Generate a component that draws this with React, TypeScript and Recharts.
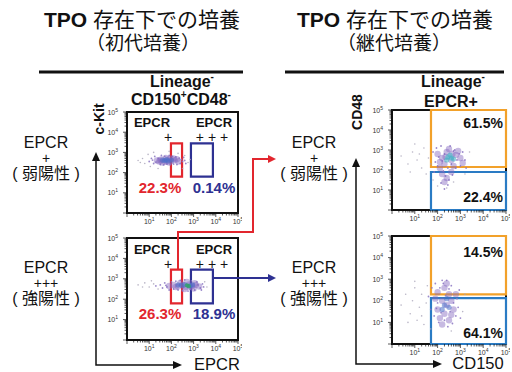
import React from 'react'
import { ScatterChart, Scatter, XAxis, YAxis, ReferenceArea } from 'recharts'

// axes are in decades (log10 of fluorescence)
const DECADES = [0, 1, 2, 3, 4]
const MINOR_STEPS = [2, 3, 4, 5, 6, 7, 8, 9]
const MAJOR_TICKS = [0, 1, 2, 3, 4, 5]
const LABELLED = [1, 2, 3, 4, 5]

// plot 1: EPCR x c-Kit, primary culture, top
const P1_CORE = [[1.35, 2.6], [1.55, 2.65], [1.7, 2.55], [1.85, 2.65], [2.0, 2.58], [2.15, 2.62], [2.3, 2.55], [1.6, 2.5], [1.9, 2.5], [2.1, 2.7], [1.75, 2.72], [1.45, 2.55], [1.5, 2.6], [1.95, 2.7], [2.25, 2.66], [1.8, 2.55]]
const P1_CENTER = [[1.7, 2.6], [1.85, 2.58], [2.0, 2.62], [1.6, 2.62], [1.78, 2.64]]
const P1_SPECK = [[1.0, 2.55], [1.1, 2.7], [1.2, 2.45], [1.25, 2.8], [1.3, 2.52], [1.4, 2.72], [1.5, 2.4], [1.55, 2.85], [1.65, 2.38], [1.7, 2.8], [1.8, 2.42], [1.9, 2.85], [1.95, 2.4], [2.05, 2.8], [2.1, 2.42], [2.2, 2.78], [2.25, 2.4], [2.35, 2.72], [2.4, 2.45], [2.45, 2.65], [2.5, 2.55], [2.55, 2.75], [2.6, 2.6], [1.15, 2.62], [2.65, 2.45]]
const P1_HALO = [[0.5, 2.6], [0.7, 2.7], [0.8, 2.45], [0.95, 2.9], [1.05, 2.3], [2.6, 2.85], [2.75, 2.5], [2.5, 2.2], [1.2, 3.0], [1.9, 3.05], [2.3, 2.95], [1.4, 2.2], [0.6, 2.5], [2.85, 2.65]]

// plot 2: EPCR x c-Kit, primary culture, bottom
const P2_CORE = [[1.9, 2.65], [2.1, 2.7], [2.3, 2.62], [2.5, 2.7], [2.65, 2.6], [2.8, 2.72], [2.95, 2.65], [3.1, 2.7], [3.25, 2.62], [2.4, 2.8], [2.7, 2.85], [2.6, 2.5], [3.0, 2.52], [2.2, 2.6], [2.85, 2.6], [3.05, 2.78]]
const P2_CENTER = [[2.45, 2.68], [2.6, 2.72], [2.85, 2.66], [2.3, 2.7], [2.95, 2.7]]
const P2_GREEN = [[2.7, 2.68], [2.78, 2.64]]
const P2_SPECK = [[1.3, 2.65], [1.5, 2.7], [1.6, 2.55], [1.7, 2.8], [1.8, 2.6], [1.9, 2.45], [2.0, 2.85], [2.1, 2.5], [2.2, 2.88], [2.3, 2.45], [2.4, 2.92], [2.5, 2.42], [2.6, 2.95], [2.75, 2.4], [2.9, 2.9], [3.05, 2.45], [3.15, 2.85], [3.3, 2.55], [3.4, 2.75], [3.45, 2.6], [2.85, 2.5], [3.2, 2.7], [1.75, 2.68], [2.55, 2.58], [3.35, 2.45]]
const P2_HALO = [[0.5, 2.7], [0.8, 2.8], [1.0, 2.6], [1.2, 2.75], [1.4, 2.5], [1.1, 2.9], [3.6, 2.6], [3.5, 2.85], [0.7, 2.6]]

// plot 3: CD150 x CD48, secondary culture from EPCR+
const P3_CORE = [[2.0, 2.8], [2.2, 2.6], [2.4, 2.9], [2.6, 2.5], [2.8, 2.75], [3.0, 2.6], [2.3, 2.3], [2.5, 3.05], [2.7, 2.2], [2.1, 2.1], [2.9, 2.95], [2.2, 1.8], [2.4, 1.6], [2.6, 1.9], [2.3, 1.4], [2.1, 2.4], [3.1, 2.35], [2.65, 2.8], [2.35, 2.65]]
const P3_CENTER = [[2.45, 2.65], [2.6, 2.6], [2.55, 2.75], [2.7, 2.55], [2.4, 2.5]]
const P3_SPECK = [[1.8, 2.9], [1.9, 2.4], [1.95, 3.1], [2.0, 2.2], [2.05, 2.65], [2.15, 3.2], [2.2, 2.45], [2.25, 1.95], [2.3, 2.8], [2.35, 1.7], [2.45, 2.1], [2.5, 1.5], [2.55, 3.2], [2.6, 2.3], [2.65, 1.75], [2.75, 3.0], [2.8, 2.1], [2.85, 2.5], [2.95, 2.8], [3.0, 2.2], [3.1, 2.9], [3.2, 2.5], [3.25, 2.1], [2.15, 1.35], [2.45, 1.25], [2.3, 1.05], [1.85, 1.9], [2.7, 2.95]]
const P3_HALO = [[0.4, 2.7], [0.7, 2.3], [0.9, 2.9], [1.1, 2.5], [1.3, 2.1], [1.4, 3.1], [1.6, 2.6], [1.5, 1.8], [1.2, 2.8], [0.8, 1.9], [1.7, 2.3], [1.0, 3.3], [1.8, 1.5], [2.0, 1.2], [2.4, 1.1], [2.7, 1.4], [3.2, 1.8], [3.4, 2.9]]

// plot 4: CD150 x CD48, secondary culture from EPCR+++
const P4_CORE = [[2.0, 2.4], [2.3, 2.6], [2.5, 2.3], [2.2, 2.0], [2.4, 1.8], [2.6, 2.0], [2.0, 1.6], [2.3, 1.4], [2.7, 1.6], [2.1, 1.2], [2.5, 1.1], [2.8, 2.3], [1.9, 2.1], [2.4, 2.8], [2.2, 0.9], [2.6, 1.35]]
const P4_CENTER = [[2.3, 1.8], [2.4, 2.1], [2.2, 1.6], [2.5, 1.7]]
const P4_SPECK = [[1.6, 2.2], [1.7, 1.6], [1.75, 2.6], [1.85, 1.3], [1.9, 2.8], [2.0, 1.9], [2.05, 1.0], [2.1, 2.6], [2.15, 1.45], [2.25, 2.8], [2.3, 1.1], [2.35, 2.25], [2.45, 0.8], [2.5, 2.55], [2.55, 1.5], [2.6, 2.7], [2.65, 0.95], [2.7, 1.9], [2.8, 1.3], [2.85, 2.1], [2.9, 1.7], [2.95, 2.5], [3.0, 1.2], [2.2, 2.95], [2.4, 2.95], [1.95, 1.65]]
const P4_HALO = [[0.4, 1.8], [0.6, 2.3], [0.8, 1.4], [0.9, 2.0], [1.0, 2.6], [1.1, 1.1], [1.2, 1.7], [1.3, 2.3], [1.4, 0.9], [1.5, 1.9], [1.55, 2.7], [1.3, 1.3], [0.7, 1.0], [1.7, 0.7], [3.1, 1.5], [3.2, 2.3], [2.6, 0.6], [1.0, 2.9]]

// gates [x1, x2, y1, y2] in decades
const GATE_WEAK = [1.98, 2.48, 1.8, 3.45]
const GATE_STRONG = [2.88, 3.87, 1.8, 3.45]
const GATE_P3_HIGH = [1.71, 5, 2.15, 5]
const GATE_P3_LOW = [1.71, 5, 0, 1.9]
const GATE_P4_HIGH = [1.71, 5, 2.3, 5]
const GATE_P4_LOW = [1.71, 5, 0, 2.12]

const PCT_LEFT = ['22.3%', '0.14%', '26.3%', '18.9%']
const PCT_RIGHT = ['61.5%', '22.4%', '14.5%', '64.1%']

const RED = '#e2262e'
const NAVY = '#2e3192'
const ORANGE = '#f2a12a'
const BLUE = '#2a7bc4'
const SANS = "'Liberation Sans', Arial, sans-serif"
const JP = "'Liberation Sans', 'Noto Sans CJK JP', sans-serif"

const ALL_TICKS = [
  ...MAJOR_TICKS,
  ...DECADES.flatMap((d) => MINOR_STEPS.map((k) => d + Math.log10(k))),
].sort((a, b) => a - b)

const isMajor = (v: number) => Math.abs(v - Math.round(v)) < 1e-6

function XTick({ x, y, payload }: any) {
  const v = payload.value
  const major = isMajor(v)
  return (
    <g>
      <line x1={x} x2={x} y1={y} y2={y + (major ? 4 : 2.5)} stroke="#111" strokeWidth={0.7} />
      {major && LABELLED.includes(Math.round(v)) && (
        <text x={x} y={y + 10.5} textAnchor="middle" fontSize={7} fill="#333" fontFamily={SANS}>
          10<tspan dy={-3} fontSize={5}>{Math.round(v)}</tspan>
        </text>
      )}
    </g>
  )
}

function YTick({ x, y, payload }: any) {
  const v = payload.value
  const major = isMajor(v)
  return (
    <g>
      <line x1={x - (major ? 4 : 2.5)} x2={x} y1={y} y2={y} stroke="#111" strokeWidth={0.7} />
      {major && LABELLED.includes(Math.round(v)) && (
        <text x={x - 9} y={y + 2.5} textAnchor="end" fontSize={7} fill="#333" fontFamily={SANS}>
          10<tspan dy={-3} fontSize={5}>{Math.round(v)}</tspan>
        </text>
      )}
    </g>
  )
}

type Cloud = { pts: number[][]; color: string; r: number; op: number }
type Gate = { g: number[]; color: string }

function FlowPlot({ left, top, w, h, clouds, gates }: { left: number; top: number; w: number; h: number; clouds: Cloud[]; gates: Gate[] }) {
  const YW = 34
  const MT = 8
  const MR = 4
  const XH = 16
  return (
    <div style={{ position: 'absolute', left: left - YW, top: top - MT }}>
      <ScatterChart width={YW + w + MR} height={MT + h + XH} margin={{ top: MT, right: MR, bottom: 0, left: 0 }}>
        <XAxis type="number" dataKey="x" domain={[0, 5]} ticks={ALL_TICKS} interval={0} tickSize={0} tickMargin={0}
          axisLine={false} tickLine={false} tick={(p: any) => <XTick {...p} />} height={XH} allowDataOverflow />
        <YAxis type="number" dataKey="y" domain={[0, 5]} ticks={ALL_TICKS} interval={0} tickSize={0} tickMargin={0}
          axisLine={false} tickLine={false} tick={(p: any) => <YTick {...p} />} width={YW} allowDataOverflow />
        {clouds.map((c, i) => (
          <Scatter key={i} data={c.pts.map(([x, y]) => ({ x, y }))} isAnimationActive={false}
            shape={(p: any) => <circle cx={p.cx} cy={p.cy} r={c.r} fill={c.color} fillOpacity={c.op} />} />
        ))}
        <ReferenceArea x1={0} x2={5} y1={0} y2={5} fill="none" fillOpacity={0} stroke="#111" strokeOpacity={1}
          strokeWidth={2} ifOverflow="visible" />
        {gates.map((gt, i) => (
          <ReferenceArea key={i} x1={gt.g[0]} x2={gt.g[1]} y1={gt.g[2]} y2={gt.g[3]} fill="none" fillOpacity={0}
            stroke={gt.color} strokeOpacity={1} strokeWidth={2.2} ifOverflow="visible" />
        ))}
      </ScatterChart>
    </div>
  )
}

function clouds(core: number[][], center: number[][], speck: number[][], halo: number[][], centerColor: string, extra?: number[][]): Cloud[] {
  const out: Cloud[] = [
    { pts: halo, color: '#a7a2b8', r: 0.8, op: 0.8 },
    { pts: speck, color: '#8a74c2', r: 0.9, op: 0.85 },
    { pts: core, color: '#8266be', r: 3.2, op: 0.45 },
    { pts: center, color: centerColor, r: 2.6, op: 0.55 },
  ]
  if (extra) out.push({ pts: extra, color: '#2fa36a', r: 2.2, op: 0.8 })
  return out
}

function Side({ x, y1, weak }: { x: number; y1: number; weak: boolean }) {
  return (
    <g fontFamily={JP} fill="#111" textAnchor="middle">
      <text x={x} y={y1} fontSize={16}>EPCR</text>
      <text x={x} y={y1 + 15} fontSize={14}>{weak ? '+' : '+++'}</text>
      <text x={x} y={y1 + 31} fontSize={16}>( {weak ? '弱陽性' : '強陽性'} )</text>
    </g>
  )
}

export default function App() {
  return (
    <div style={{ position: 'absolute', left: 0, top: 0, width: 512, height: 372, background: '#fff', overflow: 'hidden', fontFamily: SANS }}>
      <FlowPlot left={127} top={112} w={111} h={101} gates={[{ g: GATE_WEAK, color: RED }, { g: GATE_STRONG, color: NAVY }]}
        clouds={clouds(P1_CORE, P1_CENTER, P1_SPECK, P1_HALO, '#4a6fc8')} />
      <FlowPlot left={127} top={238} w={111} h={102} gates={[{ g: GATE_WEAK, color: RED }, { g: GATE_STRONG, color: NAVY }]}
        clouds={clouds(P2_CORE, P2_CENTER, P2_SPECK, P2_HALO, '#4a6fc8', P2_GREEN)} />
      <FlowPlot left={392} top={110} w={114} h={100} gates={[{ g: GATE_P3_HIGH, color: ORANGE }, { g: GATE_P3_LOW, color: BLUE }]}
        clouds={clouds(P3_CORE, P3_CENTER, P3_SPECK, P3_HALO, '#3ab2c2')} />
      <FlowPlot left={392} top={236} w={114} h={108} gates={[{ g: GATE_P4_HIGH, color: ORANGE }, { g: GATE_P4_LOW, color: BLUE }]}
        clouds={clouds(P4_CORE, P4_CENTER, P4_SPECK, P4_HALO, '#4a6fc8')} />

      <svg width={512} height={372} style={{ position: 'absolute', left: 0, top: 0, pointerEvents: 'none' }}>
        {/* titles */}
        <g fontFamily={JP} fill="#111" textAnchor="middle">
          <text x={142} y={27} fontSize={21}><tspan fontWeight="bold">TPO</tspan> 存在下での培養</text>
          <text x={143} y={50} fontSize={19}>（初代培養）</text>
          <text x={395} y={27} fontSize={21}><tspan fontWeight="bold">TPO</tspan> 存在下での培養</text>
          <text x={394} y={50} fontSize={19}>（継代培養）</text>
        </g>
        <rect x={39} y={70.5} width={204} height={3} fill="#111" />
        <rect x={285} y={70.5} width={219} height={3} fill="#111" />

        {/* plot headers */}
        <g fontFamily={SANS} fontWeight="bold" fill="#111" textAnchor="middle" fontSize={16}>
          <text x={182} y={87}>Lineage<tspan dy={-7} fontSize={10}>-</tspan></text>
          <text x={181} y={105}>CD150<tspan dy={-7} fontSize={10}>+</tspan><tspan dy={7}>CD48</tspan><tspan dy={-7} fontSize={10}>-</tspan></text>
          <text x={453} y={87}>Lineage<tspan dy={-7} fontSize={10}>-</tspan></text>
          <text x={451} y={107}>EPCR+</text>
        </g>

        {/* gate labels in left plots */}
        <g fontFamily={SANS} fill="#111" textAnchor="middle">
          <text x={152} y={127} fontSize={13} fontWeight="bold">EPCR</text>
          <text x={168} y={142} fontSize={14}>+</text>
          <text x={214} y={127} fontSize={13} fontWeight="bold">EPCR</text>
          <text x={214} y={142} fontSize={14} letterSpacing={4}>+++</text>
          <text x={152} y={254} fontSize={13} fontWeight="bold">EPCR</text>
          <text x={168} y={269} fontSize={14}>+</text>
          <text x={214} y={254} fontSize={13} fontWeight="bold">EPCR</text>
          <text x={214} y={269} fontSize={14} letterSpacing={4}>+++</text>
        </g>
        <g fontFamily={SANS} fontWeight="bold" textAnchor="middle" fontSize={15}>
          <text x={160} y={193} fill={RED}>{PCT_LEFT[0]}</text>
          <text x={214} y={193} fill={NAVY}>{PCT_LEFT[1]}</text>
          <text x={160} y={319} fill={RED}>{PCT_LEFT[2]}</text>
          <text x={214} y={319} fill={NAVY}>{PCT_LEFT[3]}</text>
        </g>
        <g fontFamily={SANS} fontWeight="bold" textAnchor="end" fontSize={14} fill="#111">
          <text x={503} y={128}>{PCT_RIGHT[0]}</text>
          <text x={503} y={202}>{PCT_RIGHT[1]}</text>
          <text x={503} y={257}>{PCT_RIGHT[2]}</text>
          <text x={503} y={338}>{PCT_RIGHT[3]}</text>
        </g>

        {/* side labels */}
        <Side x={46} y1={148} weak />
        <Side x={46} y1={273} weak={false} />
        <Side x={314} y1={148} weak />
        <Side x={314} y1={273} weak={false} />

        {/* connectors */}
        <path d="M178 270 V232 H253 V159 H268" fill="none" stroke={RED} strokeWidth={2} />
        <polygon points="268,155 276,159 268,163" fill={RED} />
        <path d="M213 278 H268" fill="none" stroke={NAVY} strokeWidth={2} />
        <polygon points="268,274 276,278 268,282" fill={NAVY} />

        {/* axis arrows */}
        <path d="M96 160 V365 H174" fill="none" stroke="#111" strokeWidth={1.5} />
        <polygon points="92,161 96,152 100,161" fill="#111" />
        <polygon points="173,361 182,365 173,369" fill="#111" />
        <path d="M356 166 V364 H434" fill="none" stroke="#111" strokeWidth={1.5} />
        <polygon points="352,167 356,158 360,167" fill="#111" />
        <polygon points="433,360 442,364 433,368" fill="#111" />

        <g fontFamily={SANS} fill="#111">
          <text transform="translate(104,119) rotate(-90)" textAnchor="middle" fontSize={14} fontWeight="bold">c-Kit</text>
          <text transform="translate(362,112) rotate(-90)" textAnchor="middle" fontSize={14} fontWeight="bold">CD48</text>
          <text x={217} y={370} textAnchor="middle" fontSize={16.5}>EPCR</text>
          <text x={478} y={369} textAnchor="middle" fontSize={16.5}>CD150</text>
        </g>
      </svg>
    </div>
  )
}
